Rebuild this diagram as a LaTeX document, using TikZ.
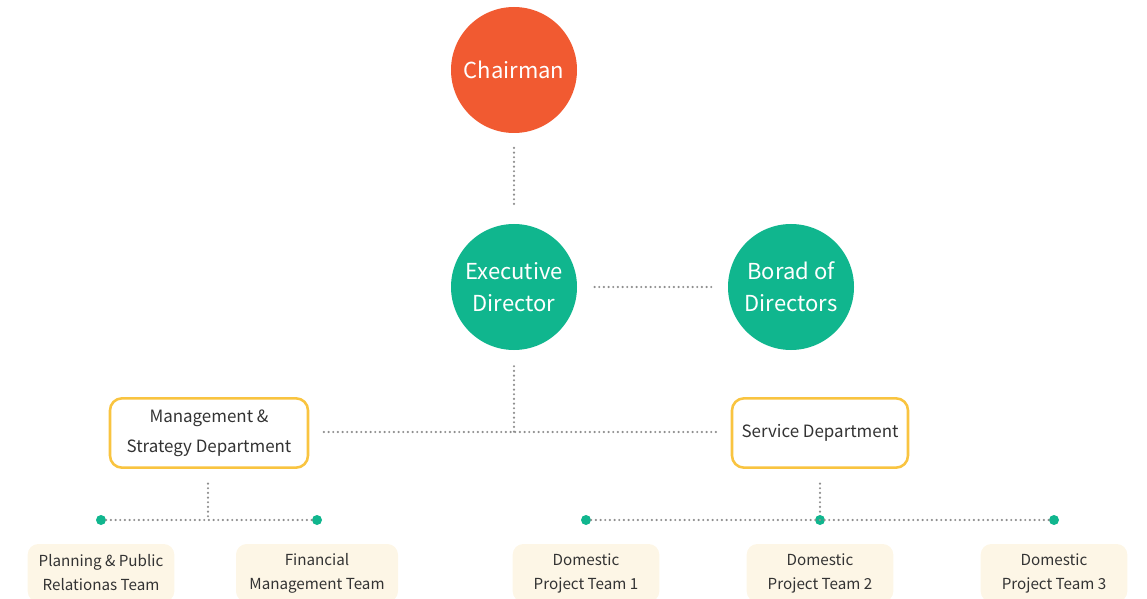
\documentclass[tikz,border=0pt]{standalone}
\usepackage{fontspec}
\setmainfont{Noto Sans CJK KR}
\usepackage{tikz}
\usetikzlibrary{positioning}

\definecolor{chairred}{HTML}{F15A31}
\definecolor{boardgreen}{HTML}{10B68E}
\definecolor{deptyellow}{HTML}{F9C440}
\definecolor{teamcream}{HTML}{FDF6E6}
\definecolor{linkgray}{HTML}{8E8E8E}
\definecolor{textgray}{HTML}{333333}

\tikzset{
  head/.style={circle, minimum size=94.5pt, inner sep=0pt, text=white,
    font=\fontsize{16.5}{24}\selectfont, align=center},
  dept/.style={draw=deptyellow, line width=1.9pt, rounded corners=9pt, fill=white,
    minimum height=52pt, text=textgray, font=\fontsize{12.7}{22.5}\selectfont, align=center},
  team/.style={fill=teamcream, rounded corners=8pt, minimum width=110pt,
    minimum height=43.5pt, text=textgray, font=\fontsize{11.4}{18}\selectfont, align=center},
  link/.style={draw=linkgray, line width=1.8pt, dash pattern=on 0pt off 3.5pt, line cap=round},
  knot/.style={circle, fill=boardgreen, minimum size=7.5pt, inner sep=0pt}
}

\begin{document}
\begin{tikzpicture}[x=0.75pt,y=-0.75pt]
\useasboundingbox (0,0) rectangle (1147,599);
\clip (0,0) rectangle (1147,599);

% heads
\node[head, fill=chairred] (CH) at (514,70) {Chairman};
\node[head, fill=boardgreen] (ED) at (514,287) {Executive\\Director};
\node[head, fill=boardgreen] (BD) at (791,287) {Borad of\\Directors};

% departments
\node[dept, minimum width=148.5pt] (MS) at (209,433) {Management \&\\Strategy Department};
\node[dept, minimum width=132pt] (SD) at (820,433) {Service Department};

% knots
\node[knot] (K1) at (101,520) {};
\node[knot] (K2) at (317,520) {};
\node[knot] (K3) at (586,520) {};
\node[knot] (K4) at (820,520) {};
\node[knot] (K5) at (1054,520) {};
\coordinate (JE) at (514,432);
\coordinate (JM) at (208,520);

% teams
\node[team] (T1) at (101,573) {Planning \& Public\\Relationas Team};
\node[team, minimum width=121.5pt] (T2) at (317,573) {Financial\\Management Team};
\node[team] (T3) at (586,573) {Domestic\\Project Team 1};
\node[team] (T4) at (820,573) {Domestic\\Project Team 2};
\node[team] (T5) at (1054,573) {Domestic\\Project Team 3};

% links
\draw[link, shorten <=11pt, shorten >=12pt] (CH) -- (ED);
\draw[link, shorten <=13pt, shorten >=11pt] (ED) -- (BD);
\draw[link, shorten <=12pt] (ED) -- (JE);
\draw[link, shorten <=11pt, shorten >=9pt] (MS.east |- JE) -- (SD.west |- JE);
\draw[link, shorten <=11pt] (MS.south -| JM) -- (JM);
\draw[link] (K1) -- (K2);
\draw[link, shorten <=11pt] (SD) -- (K4);
\draw[link] (K3) -- (K5);

\end{tikzpicture}
\end{document}
